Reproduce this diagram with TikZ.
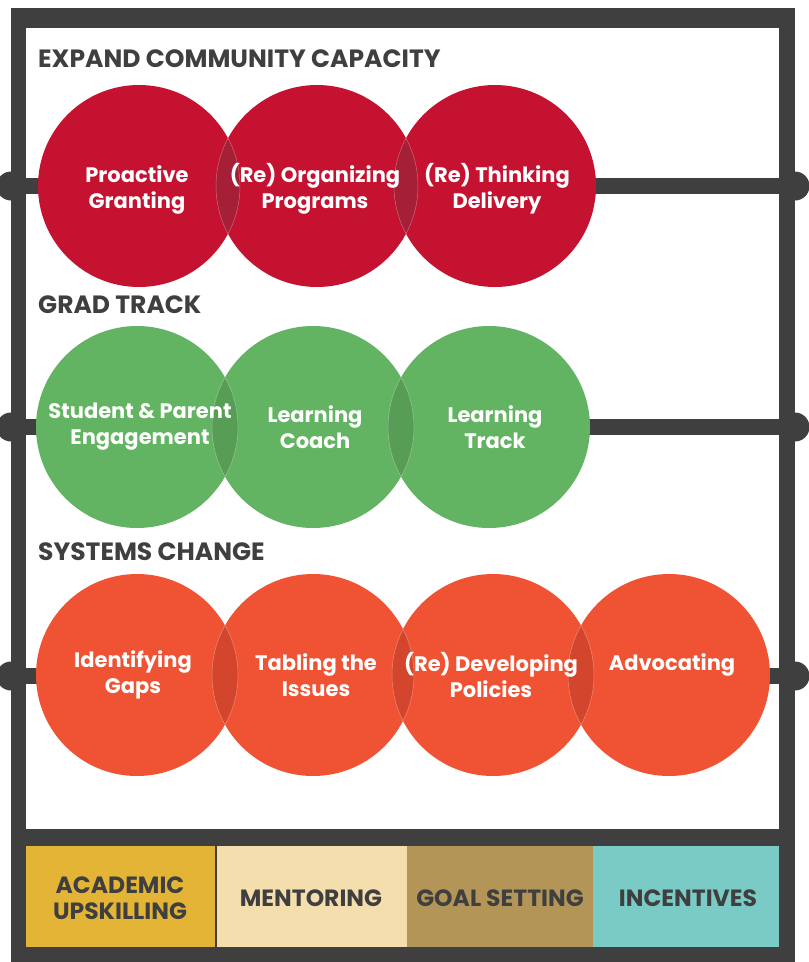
\documentclass[tikz,border=0pt]{standalone}
\usepackage{fontspec}
\setmainfont{Poppins}
\definecolor{dark}{HTML}{3F3F40}
\definecolor{cred}{HTML}{C41230}
\definecolor{credl}{HTML}{A51F36}
\definecolor{cgreen}{HTML}{62B462}
\definecolor{cgreenl}{HTML}{579D55}
\definecolor{corange}{HTML}{EF5333}
\definecolor{corangel}{HTML}{D3452D}
\definecolor{bgold}{HTML}{E4B437}
\definecolor{blight}{HTML}{F5DEAD}
\definecolor{btan}{HTML}{B39558}
\definecolor{bteal}{HTML}{7ACAC5}
\tikzset{
  circ/.style={circle, minimum size=202pt, inner sep=0pt, draw=none},
  clabel/.style={text=white, align=center, inner sep=0pt, font=\fontsize{21}{26}\selectfont\bfseries},
  heading/.style={text=dark, anchor=base west, inner sep=0pt, font=\fontsize{25}{29}\selectfont\bfseries},
  boxlabel/.style={text=dark, align=center, inner sep=0pt, font=\fontsize{23.5}{26}\selectfont\bfseries},
  bar/.style={fill=dark},
  lensedge/.style={draw=white, opacity=.35, line width=.5pt}
}
\begin{document}
\begin{tikzpicture}[x=1pt,y=-1pt]
\useasboundingbox (0,0) rectangle (809,962);
% frame
\fill[dark] (11,8) rectangle (795,962);
\fill[white] (26,28) rectangle (779,829);
% bars
\foreach \yy in {186,427,676}{
  \fill[bar] (11,\yy-8) rectangle (795,\yy+8);
  \fill[bar] (11,\yy) circle (14.5pt);
  \fill[bar] (795,\yy) circle (14.5pt);
}
% headings
\node[heading] (h1) at (38,67) {EXPAND COMMUNITY CAPACITY};
\node[heading] (h2) at (38,313) {GRAD TRACK};
\node[heading] (h3) at (38,560) {SYSTEMS CHANGE};
% circles
\node[circ, fill=cred] (e1) at (139,186) {};
\node[circ, fill=cred] (e2) at (317,186) {};
\node[circ, fill=cred] (e3) at (495,186) {};
\node[circ, fill=cgreen] (g1) at (137,427) {};
\node[circ, fill=cgreen] (g2) at (313,427) {};
\node[circ, fill=cgreen] (g3) at (489,427) {};
\node[circ, fill=corange] (s1) at (137,675) {};
\node[circ, fill=corange] (s2) at (313,675) {};
\node[circ, fill=corange] (s3) at (493,675) {};
\node[circ, fill=corange] (s4) at (669,675) {};
% lenses
\foreach \a/\b/\c in {e1/e2/credl,e2/e3/credl,g1/g2/cgreenl,g2/g3/cgreenl,s1/s2/corangel,s2/s3/corangel,s3/s4/corangel}{
  \begin{scope}
    \clip (\a) circle (101pt);
    \fill[\c] (\b) circle (101pt);
    \draw[lensedge] (\b) circle (101pt);
  \end{scope}
  \begin{scope}
    \clip (\b) circle (101pt);
    \draw[lensedge] (\a) circle (101pt);
  \end{scope}
}
% circle labels
\node[clabel] (te1) at (137,190) {Proactive\\Granting};
\node[clabel] (te2) at (315,189) {(Re) Organizing\\Programs};
\node[clabel] (te3) at (497,189) {(Re) Thinking\\Delivery};
\node[clabel] (tg1) at (140,427) {Student \& Parent\\Engagement};
\node[clabel] (tg2) at (315,427) {Learning\\Coach};
\node[clabel] (tg3) at (495,427) {Learning\\Track};
\node[clabel] (ts1) at (133,675) {Identifying\\Gaps};
\node[clabel] (ts2) at (316,675) {Tabling the\\Issues};
\node[clabel] (ts3) at (491,675) {(Re) Developing\\Policies};
\node[clabel] (ts4) at (672,675) {Advocating\\\phantom{A}};
% bottom boxes
\fill[bgold] (26,846) rectangle (215,947);
\fill[blight] (217,846) rectangle (407,947);
\fill[btan] (407,846) rectangle (593,947);
\fill[bteal] (593,846) rectangle (779,947);
\node[boxlabel] (b1) at (120,898) {ACADEMIC\\UPSKILLING};
\node[boxlabel] (b2) at (311,898) {MENTORING};
\node[boxlabel] (b3) at (500,898) {GOAL SETTING};
\node[boxlabel] (b4) at (688,898) {INCENTIVES};
\end{tikzpicture}
\end{document}
